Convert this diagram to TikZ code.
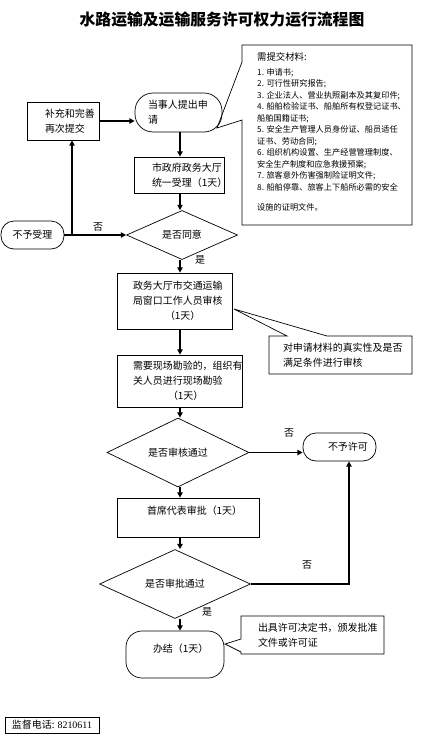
\documentclass[tikz,border=0pt]{standalone}
\usepackage{fontspec}
\setmainfont{Noto Sans CJK SC}
\newfontfamily\numfont{Liberation Serif}
\usetikzlibrary{arrows.meta,positioning,shapes.geometric}
\newlength\unitpx
\setlength\unitpx{0.03cm}

\begin{document}
\begin{tikzpicture}[x=0.03cm,y=-0.03cm,>={Triangle[length=4.5pt,width=4.5pt]}]
\tikzstyle{box}=[draw, line width=0.6pt, rectangle, align=left,
font=\fontsize{8.5}{13}\selectfont, inner ysep=0pt]
\tikzstyle{term}=[box, rounded corners=13\unitpx]
\tikzstyle{decide}=[draw, line width=0.6pt, diamond, inner sep=0pt,
font=\fontsize{8.5}{13}\selectfont]
\tikzstyle{note}=[align=left, inner ysep=0pt, font=\fontsize{8.5}{13}\selectfont]
\tikzstyle{outline}=[line width=0.6pt]
\tikzstyle{flow}=[->, line width=1.3pt]
\tikzstyle{lbl}=[font=\fontsize{8.5}{10}\selectfont]

\useasboundingbox (0,0) rectangle (433,749);

% title
\node[font=\fontsize{13.5}{16}\selectfont\bfseries] (title) at (222,20) {水路运输及运输服务许可权力运行流程图};

% application and acceptance
\node[box, minimum height=38\unitpx, text width=36\unitpx, inner xsep=18\unitpx] (resubmit) at (63,121) {补充和完善\\再次提交};
\node[term, rounded corners=18\unitpx, minimum height=39\unitpx, text width=61\unitpx, inner xsep=13\unitpx] (apply) at (178.5,112.5) {当事人提出申\\请};
\node[box, minimum height=36\unitpx, text width=54\unitpx, inner xsep=18\unitpx] (accept) at (179,175) {市政府政务大厅\\统一受理（1天）};
\node[decide, minimum width=111\unitpx, minimum height=36\unitpx] (agree) at (182,235) {是否同意};
\node[term, minimum width=63\unitpx, minimum height=28\unitpx] (refuse) at (32.5,235) {不予受理};

% materials
\node[anchor=north west, align=left, inner sep=0pt, font=\fontsize{7}{9.8}\selectfont] (materials) at (257,52) {{\fontsize{8}{10}\selectfont 需提交材料:}\\[3pt]
1. 申请书;\\
2. 可行性研究报告;\\
3. 企业法人、营业执照副本及其复印件;\\
4. 船舶检验证书、船舶所有权登记证书、\\
船舶国籍证书;\\
5. 安全生产管理人员身份证、船员适任\\
证书、劳动合同;\\
6. 组织机构设置、生产经营管理制度、\\
安全生产制度和应急救援预案;\\
7. 旅客意外伤害强制险证明文件;\\
8. 船舶停靠、旅客上下船所必需的安全\\[8pt]
设施的证明文件。};
\coordinate (mtip) at (217,128);
\draw[outline] (242,62) -- (mtip) -- (242,120) -- (242,225) -- (412,225) -- (412,45) -- (242,45) -- cycle;

% review and survey
\node[box, minimum height=56\unitpx, text width=83\unitpx, inner xsep=16\unitpx] (review) at (174.5,301) {政务大厅市交通运输\\局窗口工作人员审核\\\hspace*{32\unitpx}（1天）};
\node[note, text width=115\unitpx, inner xsep=14\unitpx] (check) at (340.5,355) {对申请材料的真实性及是否\\满足条件进行审核};
\coordinate (ctip) at (234,309);
\draw[outline] (269,336) -- (287,336) -- (ctip) -- (327,336) -- (412,336) -- (412,374) -- (269,374) -- cycle;
\node[box, minimum height=52\unitpx, text width=93\unitpx, inner xsep=16\unitpx] (survey) at (179.5,381) {需要现场勘验的，组织有\\关人员进行现场勘验\\\hspace*{35\unitpx}（1天）};
\node[decide, minimum width=142\unitpx, minimum height=45\unitpx] (pass) at (178,452.5) {是否审核通过};
\node[term, minimum height=28\unitpx, text width=23\unitpx, inner xsep=25\unitpx] (deny) at (339.5,447) {不予许可};

% approval
\node[box, minimum height=39\unitpx, text width=82\unitpx, inner xsep=30\unitpx, text depth=14\unitpx] (approve) at (188,517.5) {首席代表审批（1天）};
\node[decide, minimum width=151\unitpx, minimum height=47\unitpx] (approved) at (175,584) {是否审批通过};
\node[term, rounded corners=16\unitpx, minimum height=47\unitpx, text width=44\unitpx, inner xsep=27\unitpx, text depth=12\unitpx] (done) at (175,654.5) {办结（1天）};
\node[note, text width=109\unitpx, inner xsep=17\unitpx] (issue) at (312.5,635) {出具许可决定书，颁发批准\\文件或许可证};
\coordinate (itip) at (225,644);
\draw[outline] (241,639) -- (itip) -- (241,652) -- (241,654) -- (384,654) -- (384,616) -- (241,616) -- cycle;

% phone
\node[box, minimum width=94\unitpx, minimum height=16\unitpx, inner xsep=0pt] (phone) at (52,725) {监督电话: {\numfont 8210611}};

% connectors
\coordinate (col) at (180,0);
\coordinate (fork) at (72,235);
\coordinate (turn) at (349,584);
\draw[flow] (resubmit.east) -- (resubmit.east -| apply.west);
\draw[flow] (col |- apply.south) -- (col |- accept.north);
\draw[flow] (col |- accept.south) -- (col |- agree.north);
\draw[flow] (refuse.east) -- (refuse.east -| agree.west);
\draw[flow] (fork) -- (fork |- resubmit.south);
\draw[flow] (col |- agree.south) -- (col |- review.north);
\draw[flow] (col |- review.south) -- (col |- survey.north);
\draw[flow] (col |- survey.south) -- (col |- pass.north);
\draw[flow] (pass.east) -- (pass.east -| deny.west);
\draw[flow] (col |- pass.south) -- (col |- approve.north);
\draw[flow] (col |- approve.south) -- (col |- approved.north);
\draw[flow] (approved.east) -- (turn) -- (turn |- deny.south);
\draw[flow] (col |- approved.south) -- (col |- done.north);

% labels
\node[lbl] (no1) at (98,227) {否};
\node[lbl] (yes1) at (200,260) {是};
\node[lbl] (no2) at (289,433) {否};
\node[lbl] (no3) at (307,565) {否};
\node[lbl] (yes2) at (207,612) {是};

\end{tikzpicture}
\end{document}
